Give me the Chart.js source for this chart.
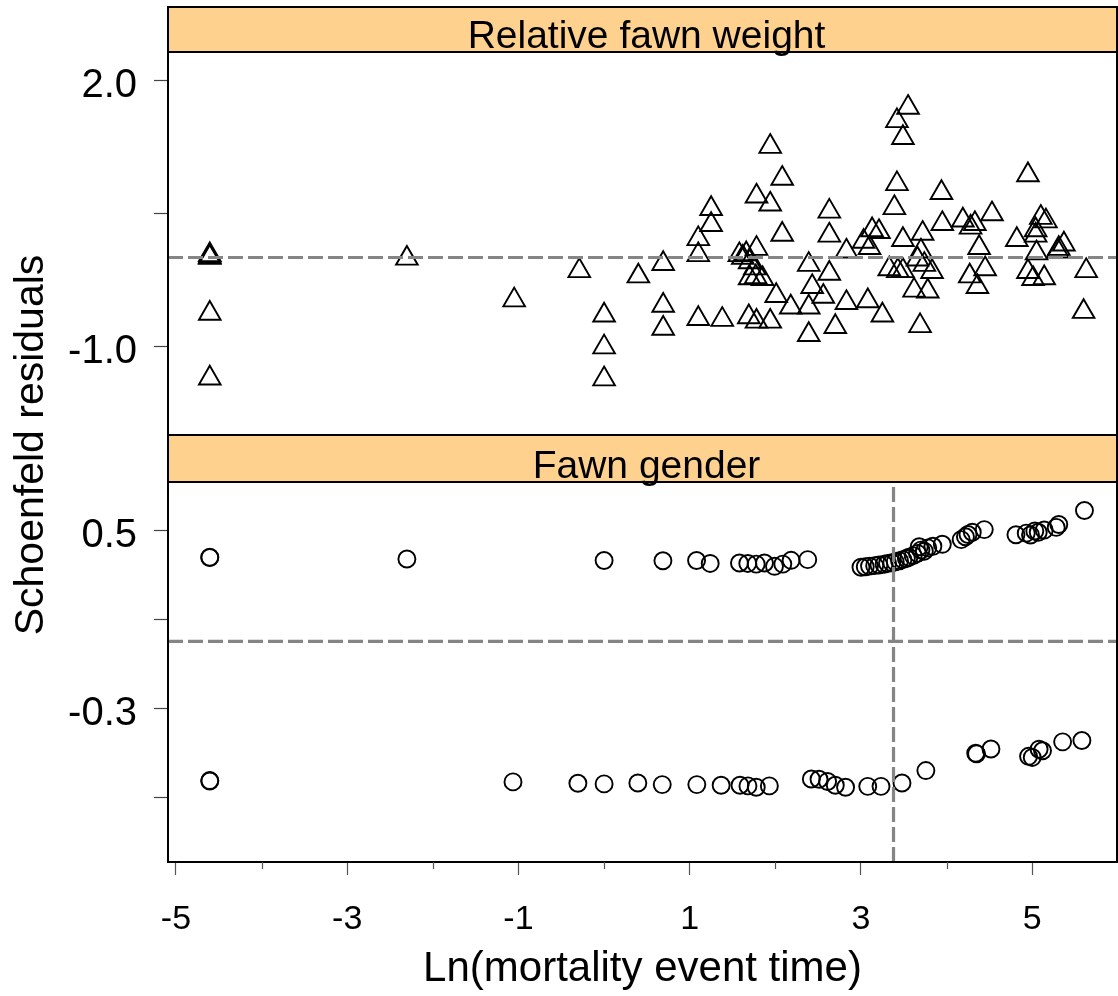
<!DOCTYPE html>
<html>
<head>
<meta charset="utf-8">
<title>Schoenfeld residuals</title>
<script src="https://cdn.jsdelivr.net/npm/chart.js@4.4.1/dist/chart.umd.min.js"></script>
<style>
  html, body { margin: 0; padding: 0; background: #fff; }
  #wrap { position: relative; width: 1118px; height: 996px; overflow: hidden; }
  #wrap canvas { position: absolute; left: 0; top: 0; }
</style>
</head>
<body>
<div id="wrap">
  <canvas id="weightChart" width="1118" height="996"></canvas>
  <canvas id="genderChart" width="1118" height="996"></canvas>
</div>
<script>
// residuals for relative fawn weight (x = ln of event time)
const weightTime = [
  -4.605, -4.605, -4.605, -4.605, -4.605,
  -2.303, -1.05, -0.29,
  0.0, 0.0, 0.0,
  0.40,
  0.69, 0.69, 0.69,
  1.10, 1.10, 1.10,
  1.25, 1.25, 1.38,
  1.58, 1.62, 1.66, 1.70, 1.76,
  1.78, 1.78, 1.70, 1.77, 1.85,
  1.69, 1.78,
  1.94, 1.94, 1.94,
  2.01, 2.08, 2.08, 2.18,
  2.39, 2.39, 2.39, 2.43, 2.56,
  2.63, 2.63, 2.63, 2.70,
  2.83, 2.83,
  3.03, 3.10, 3.13, 3.21, 3.08, 3.25,
  3.33, 3.39, 3.42, 3.42, 3.43, 3.49, 3.49, 3.49, 3.55,
  3.62, 3.66, 3.69, 3.70, 3.72, 3.74, 3.78, 3.83,
  3.94, 3.95,
  4.19, 4.28, 4.33, 4.38, 4.45, 4.27, 4.36, 4.53,
  4.82, 4.95, 4.95, 5.01, 5.04, 5.04, 5.05, 5.10, 5.16, 5.14,
  5.30, 5.31, 5.37,
  5.63, 5.60
];
const weightResid = [
  0.01, 0.03, 0.00, -0.63, -1.36,
  -0.01, -0.48, -0.15,
  -0.65, -1.01, -1.37,
  -0.21,
  -0.07, -0.54, -0.80,
  0.21, 0.03, -0.69,
  0.55, 0.37, -0.70,
  0.03, 0.00, 0.04, -0.05, -0.12,
  0.10, 0.69, -0.23, -0.22, -0.24,
  -0.67, -0.72,
  1.25, 0.60, -0.72,
  -0.43, 0.89, 0.26, -0.56,
  -0.08, -0.56, -0.87, -0.33, -0.44,
  0.52, 0.25, -0.18, -0.78,
  0.07, -0.51,
  0.18, 0.11, 0.31, 0.29, -0.49, -0.65,
  -0.13, 0.56, 0.83, 1.54, -0.15, -0.15, 1.35, 0.20, 1.69,
  -0.37, -0.02, -0.77, 0.07, 0.27, -0.08, -0.38, -0.16,
  0.73, 0.38,
  0.42, 0.34, 0.38, 0.11, -0.13, -0.21, -0.33, 0.49,
  0.20, 0.93, -0.16, -0.24, 0.31, 0.25, 0.05, 0.45, 0.41, -0.23,
  0.07, 0.10, 0.15,
  -0.15, -0.61
];

// residuals for fawn gender
const genderTime = [
  -4.605, -4.605, -2.303, 0.0, 0.687, 1.08, 1.239,
  1.581, 1.678, 1.776, 1.873, 1.99, 2.087, 2.184, 2.378,
  3.00, 3.05, 3.10, 3.16, 3.21, 3.27, 3.31, 3.36, 3.40, 3.45, 3.49, 3.53,
  3.56, 3.61, 3.66, 3.70, 3.68, 3.74, 3.78, 3.84, 3.95,
  4.17, 4.22, 4.25, 4.30, 4.44,
  4.81, 4.93, 4.98, 5.03, 5.07, 5.14, 5.28, 5.31, 5.61,
  -4.605, -4.605, -1.064, -0.306, 0.0, 0.394, 0.679, 1.083, 1.367,
  1.587, 1.68, 1.777, 1.93,
  2.42, 2.51, 2.61, 2.70, 2.82,
  3.079, 3.234, 3.479, 3.758,
  4.34, 4.35, 4.518,
  4.957, 5.0, 5.08, 5.12, 5.355, 5.58
];
const genderResid = [
  0.378, 0.376, 0.370, 0.363, 0.362, 0.363, 0.350,
  0.352, 0.350, 0.347, 0.352, 0.337, 0.347, 0.364, 0.367,
  0.333, 0.335, 0.338, 0.340, 0.343, 0.346, 0.350, 0.353, 0.357, 0.362, 0.367, 0.372,
  0.378, 0.385, 0.395, 0.410, 0.425, 0.405, 0.420, 0.427, 0.436,
  0.457, 0.470, 0.480, 0.490, 0.502,
  0.479, 0.486, 0.478, 0.496, 0.490, 0.500, 0.512, 0.525, 0.588,
  -0.626, -0.628, -0.632, -0.638, -0.641, -0.637, -0.644, -0.644, -0.647,
  -0.647, -0.650, -0.656, -0.650,
  -0.619, -0.620, -0.630, -0.647, -0.656,
  -0.652, -0.652, -0.637, -0.581,
  -0.503, -0.506, -0.484,
  -0.517, -0.522, -0.485, -0.492, -0.452, -0.446
];

// axis ticks
const xTicks = [-5, -4, -3, -2, -1, 0, 1, 2, 3, 4, 5];
const xLabelled = [-5, -3, -1, 1, 3, 5];
const weightTicks = [2.0, 0.5, -1.0];
const weightLabelled = [2.0, -1.0];
const genderTicks = [0.5, 0.1, -0.3, -0.7];
const genderLabelled = [0.5, -0.3];

const changePoint = 3.38;
const xMin = -5.093, xMax = 5.99;
const weightRange = [-2.0, 2.316];
const genderRange = [-0.992, 0.716];

const FONT = '"Liberation Sans", Arial, Helvetica, sans-serif';
Chart.defaults.font.family = FONT;
Chart.defaults.color = '#000';

const pts = (xs, ys) => xs.map((x, i) => ({ x: x, y: ys[i] }));

// strip label above each panel plus the panel box
const panelFrame = {
  id: 'panelFrame',
  afterDraw(chart, args, opts) {
    const { ctx, chartArea: a } = chart;
    const top = a.top - opts.stripHeight;
    ctx.save();
    ctx.fillStyle = '#FFD18F';
    ctx.fillRect(a.left, top, a.right - a.left, opts.stripHeight);
    ctx.lineWidth = 2;
    ctx.strokeStyle = '#000';
    ctx.strokeRect(a.left, top, a.right - a.left, opts.stripHeight);
    ctx.strokeRect(a.left, a.top, a.right - a.left, a.bottom - a.top);
    ctx.fillStyle = '#000';
    ctx.font = '39px ' + FONT;
    ctx.textAlign = 'center';
    ctx.textBaseline = 'alphabetic';
    ctx.fillText(opts.title, (a.left + a.right) / 2 + 4, a.top - 4);
    ctx.restore();
  }
};

// short minor ticks on even x values, shared y label
const axisExtras = {
  id: 'axisExtras',
  afterDraw(chart) {
    const { ctx, chartArea: a } = chart;
    const sx = chart.scales.x;
    ctx.save();
    ctx.strokeStyle = '#555';
    ctx.lineWidth = 1.2;
    xTicks.filter(v => !xLabelled.includes(v)).forEach(v => {
      const px = Math.round(sx.getPixelForValue(v)) + 0.5;
      ctx.beginPath();
      ctx.moveTo(px, a.bottom);
      ctx.lineTo(px, a.bottom + 7);
      ctx.stroke();
    });
    ctx.translate(43, 445);
    ctx.rotate(-Math.PI / 2);
    ctx.fillStyle = '#000';
    ctx.font = '41px ' + FONT;
    ctx.textAlign = 'center';
    ctx.textBaseline = 'alphabetic';
    ctx.fillText('Schoenfeld residuals', 0, 0);
    ctx.restore();
  }
};

function refLine(data) {
  return {
    type: 'line', data: data, borderColor: '#858585', borderWidth: 3.2,
    borderDash: [15, 5], pointRadius: 0, fill: false, order: 0
  };
}

function yScale(range, ticks, labelled) {
  return {
    type: 'linear', min: range[0], max: range[1],
    afterFit(s) { s.width = 168; },
    afterBuildTicks(s) { s.ticks = ticks.map(v => ({ value: v })); },
    grid: { drawOnChartArea: false, tickLength: 14, tickColor: '#444', tickWidth: 1.2 },
    border: { display: false },
    ticks: {
      padding: 17, labelOffset: 6, font: { size: 40 }, color: '#000',
      callback: v => labelled.includes(v) ? v.toFixed(1) : ''
    }
  };
}

const common = {
  responsive: false,
  animation: false,
  devicePixelRatio: 1,
  events: []
};

new Chart(document.getElementById('weightChart'), {
  type: 'scatter',
  data: {
    datasets: [
      {
        data: pts(weightTime, weightResid), pointStyle: 'triangle', pointRadius: 12.5,
        borderColor: '#000', borderWidth: 1.9, backgroundColor: 'rgba(0,0,0,0)', order: 1
      },
      refLine([{ x: xMin, y: 0 }, { x: xMax, y: 0 }])
    ]
  },
  options: Object.assign({}, common, {
    layout: { autoPadding: false, padding: { top: 52, bottom: 561, left: 0, right: 1 } },
    plugins: {
      legend: { display: false }, tooltip: { enabled: false },
      panelFrame: { title: 'Relative fawn weight', stripHeight: 45 }
    },
    scales: {
      x: { type: 'linear', min: xMin, max: xMax, display: false },
      y: yScale(weightRange, weightTicks, weightLabelled)
    }
  }),
  plugins: [panelFrame]
});

new Chart(document.getElementById('genderChart'), {
  type: 'scatter',
  data: {
    datasets: [
      {
        data: pts(genderTime, genderResid), pointStyle: 'circle', pointRadius: 8.5,
        borderColor: '#000', borderWidth: 1.9, backgroundColor: 'rgba(0,0,0,0)', order: 1
      },
      refLine([{ x: xMin, y: 0 }, { x: xMax, y: 0 }]),
      refLine([{ x: changePoint, y: genderRange[0] }, { x: changePoint, y: genderRange[1] }])
    ]
  },
  options: Object.assign({}, common, {
    layout: { autoPadding: false, padding: { top: 482, bottom: 0, left: 0, right: 1 } },
    plugins: {
      legend: { display: false }, tooltip: { enabled: false },
      panelFrame: { title: 'Fawn gender', stripHeight: 47 }
    },
    scales: {
      x: {
        type: 'linear', min: xMin, max: xMax,
        afterFit(s) { s.height = 134; },
        afterBuildTicks(s) { s.ticks = xTicks.map(v => ({ value: v })); },
        grid: {
          drawOnChartArea: false, tickLength: 13, tickWidth: 1.2,
          tickColor: c => (c.tick && xLabelled.includes(c.tick.value)) ? '#555' : 'rgba(0,0,0,0)'
        },
        border: { display: false },
        ticks: {
          padding: 24, autoSkip: false, maxRotation: 0, font: { size: 34 }, color: '#000',
          callback: v => xLabelled.includes(v) ? String(v) : ''
        },
        title: {
          display: true, text: 'Ln(mortality event time)', color: '#000',
          font: { size: 42 }, padding: { top: 0, bottom: 1 }
        }
      },
      y: yScale(genderRange, genderTicks, genderLabelled)
    }
  }),
  plugins: [panelFrame, axisExtras]
});
</script>
</body>
</html>
